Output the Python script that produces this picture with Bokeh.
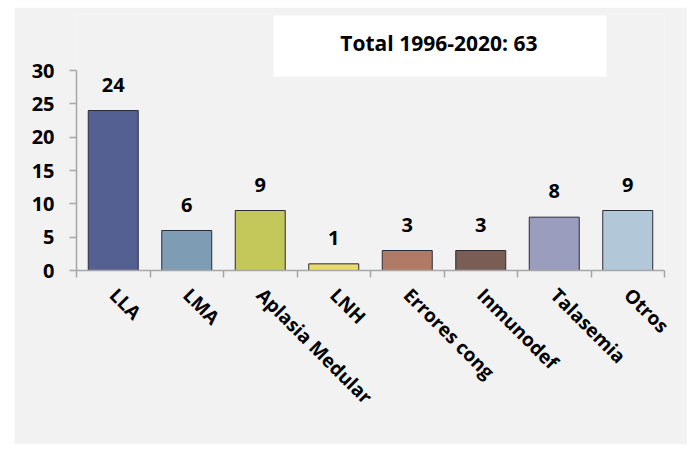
from bokeh.plotting import figure
from bokeh.models import Range1d, FixedTicker, ColumnDataSource, BoxAnnotation, Label
from bokeh.core.properties import value
from bokeh.embed import file_html
from bokeh.resources import INLINE
import math

categories = ["LLA", "LMA", "Aplasia Medular", "LNH", "Errores cong", "Inmunodef", "Talasemia", "Otros"]
counts = [24, 6, 9, 1, 3, 3, 8, 9]
colors = ["#545f92", "#7e9db5", "#c4c85a", "#e8dc6a", "#b07a66", "#7a5e55", "#9a9dbd", "#b2c8d8"]
y_ticks = [0, 5, 10, 15, 20, 25, 30]
title_text = "Total 1996-2020: 63"

FONT = "Open Sans"
BG = "#f2f2f2"

n = len(categories)
xs = [i + 0.5 for i in range(n)]
src = ColumnDataSource(dict(x=xs, top=counts, color=colors, label=[str(c) for c in counts]))

p = figure(width=673, height=437, output_backend="svg", toolbar_location=None,
           x_range=Range1d(0, n), y_range=Range1d(0, 38.55),
           min_border_left=62, min_border_right=23, min_border_top=6, min_border_bottom=174)
p.margin = (7, 7, 7, 14)
p.background_fill_color = BG
p.border_fill_color = BG
p.outline_line_color = None
p.grid.visible = False

# white title box
p.add_layout(BoxAnnotation(left=2.68, right=7.21, bottom=29.1, top=38.25,
                           fill_color="white", fill_alpha=1.0, line_color=None, level="underlay"))
p.add_layout(Label(x=4.93, y=34.2, text=title_text, text_align="center", text_baseline="middle",
                   text_font=FONT, text_font_style="bold", text_font_size="21px", text_color="black"))

p.vbar(x="x", top="top", width=0.68, bottom=0, source=src, fill_color="color",
       line_color="#2b2b3a", line_width=1)

p.text(x="x", y="top", text="label", source=src, y_offset=-26, text_align="center",
       text_baseline="middle", text_font=value(FONT), text_font_style="bold",
       text_font_size="20px", text_color="black")

# y axis
ya = p.yaxis[0]
ya.ticker = FixedTicker(ticks=y_ticks)
ya.bounds = (0, 30)
ya.axis_line_color = "#a6a6a6"
ya.axis_line_width = 1.5
ya.major_tick_line_color = "#a6a6a6"
ya.major_tick_line_width = 1.5
ya.major_tick_out = 7
ya.major_tick_in = 0
ya.minor_tick_line_color = None
ya.major_label_standoff = 15
ya.major_label_text_font = FONT
ya.major_label_text_font_style = "bold"
ya.major_label_text_font_size = "20px"
ya.major_label_text_color = "black"

# x axis
xa = p.xaxis[0]
xa.ticker = FixedTicker(ticks=xs, minor_ticks=list(range(n + 1)))
xa.major_label_overrides = {x: c for x, c in zip(xs, categories)}
xa.axis_line_color = "#a6a6a6"
xa.axis_line_width = 1.5
xa.major_tick_line_color = None
xa.minor_tick_line_color = "#a6a6a6"
xa.minor_tick_line_width = 1.5
xa.minor_tick_out = 7
xa.minor_tick_in = 0
xa.major_tick_out = 7
xa.major_label_standoff = 14
xa.major_label_orientation = -math.pi / 4
xa.major_label_text_font = FONT
xa.major_label_text_font_style = "bold"
xa.major_label_text_font_size = "19px"
xa.major_label_text_color = "black"

open("out.html", "w").write(file_html(p, INLINE))
